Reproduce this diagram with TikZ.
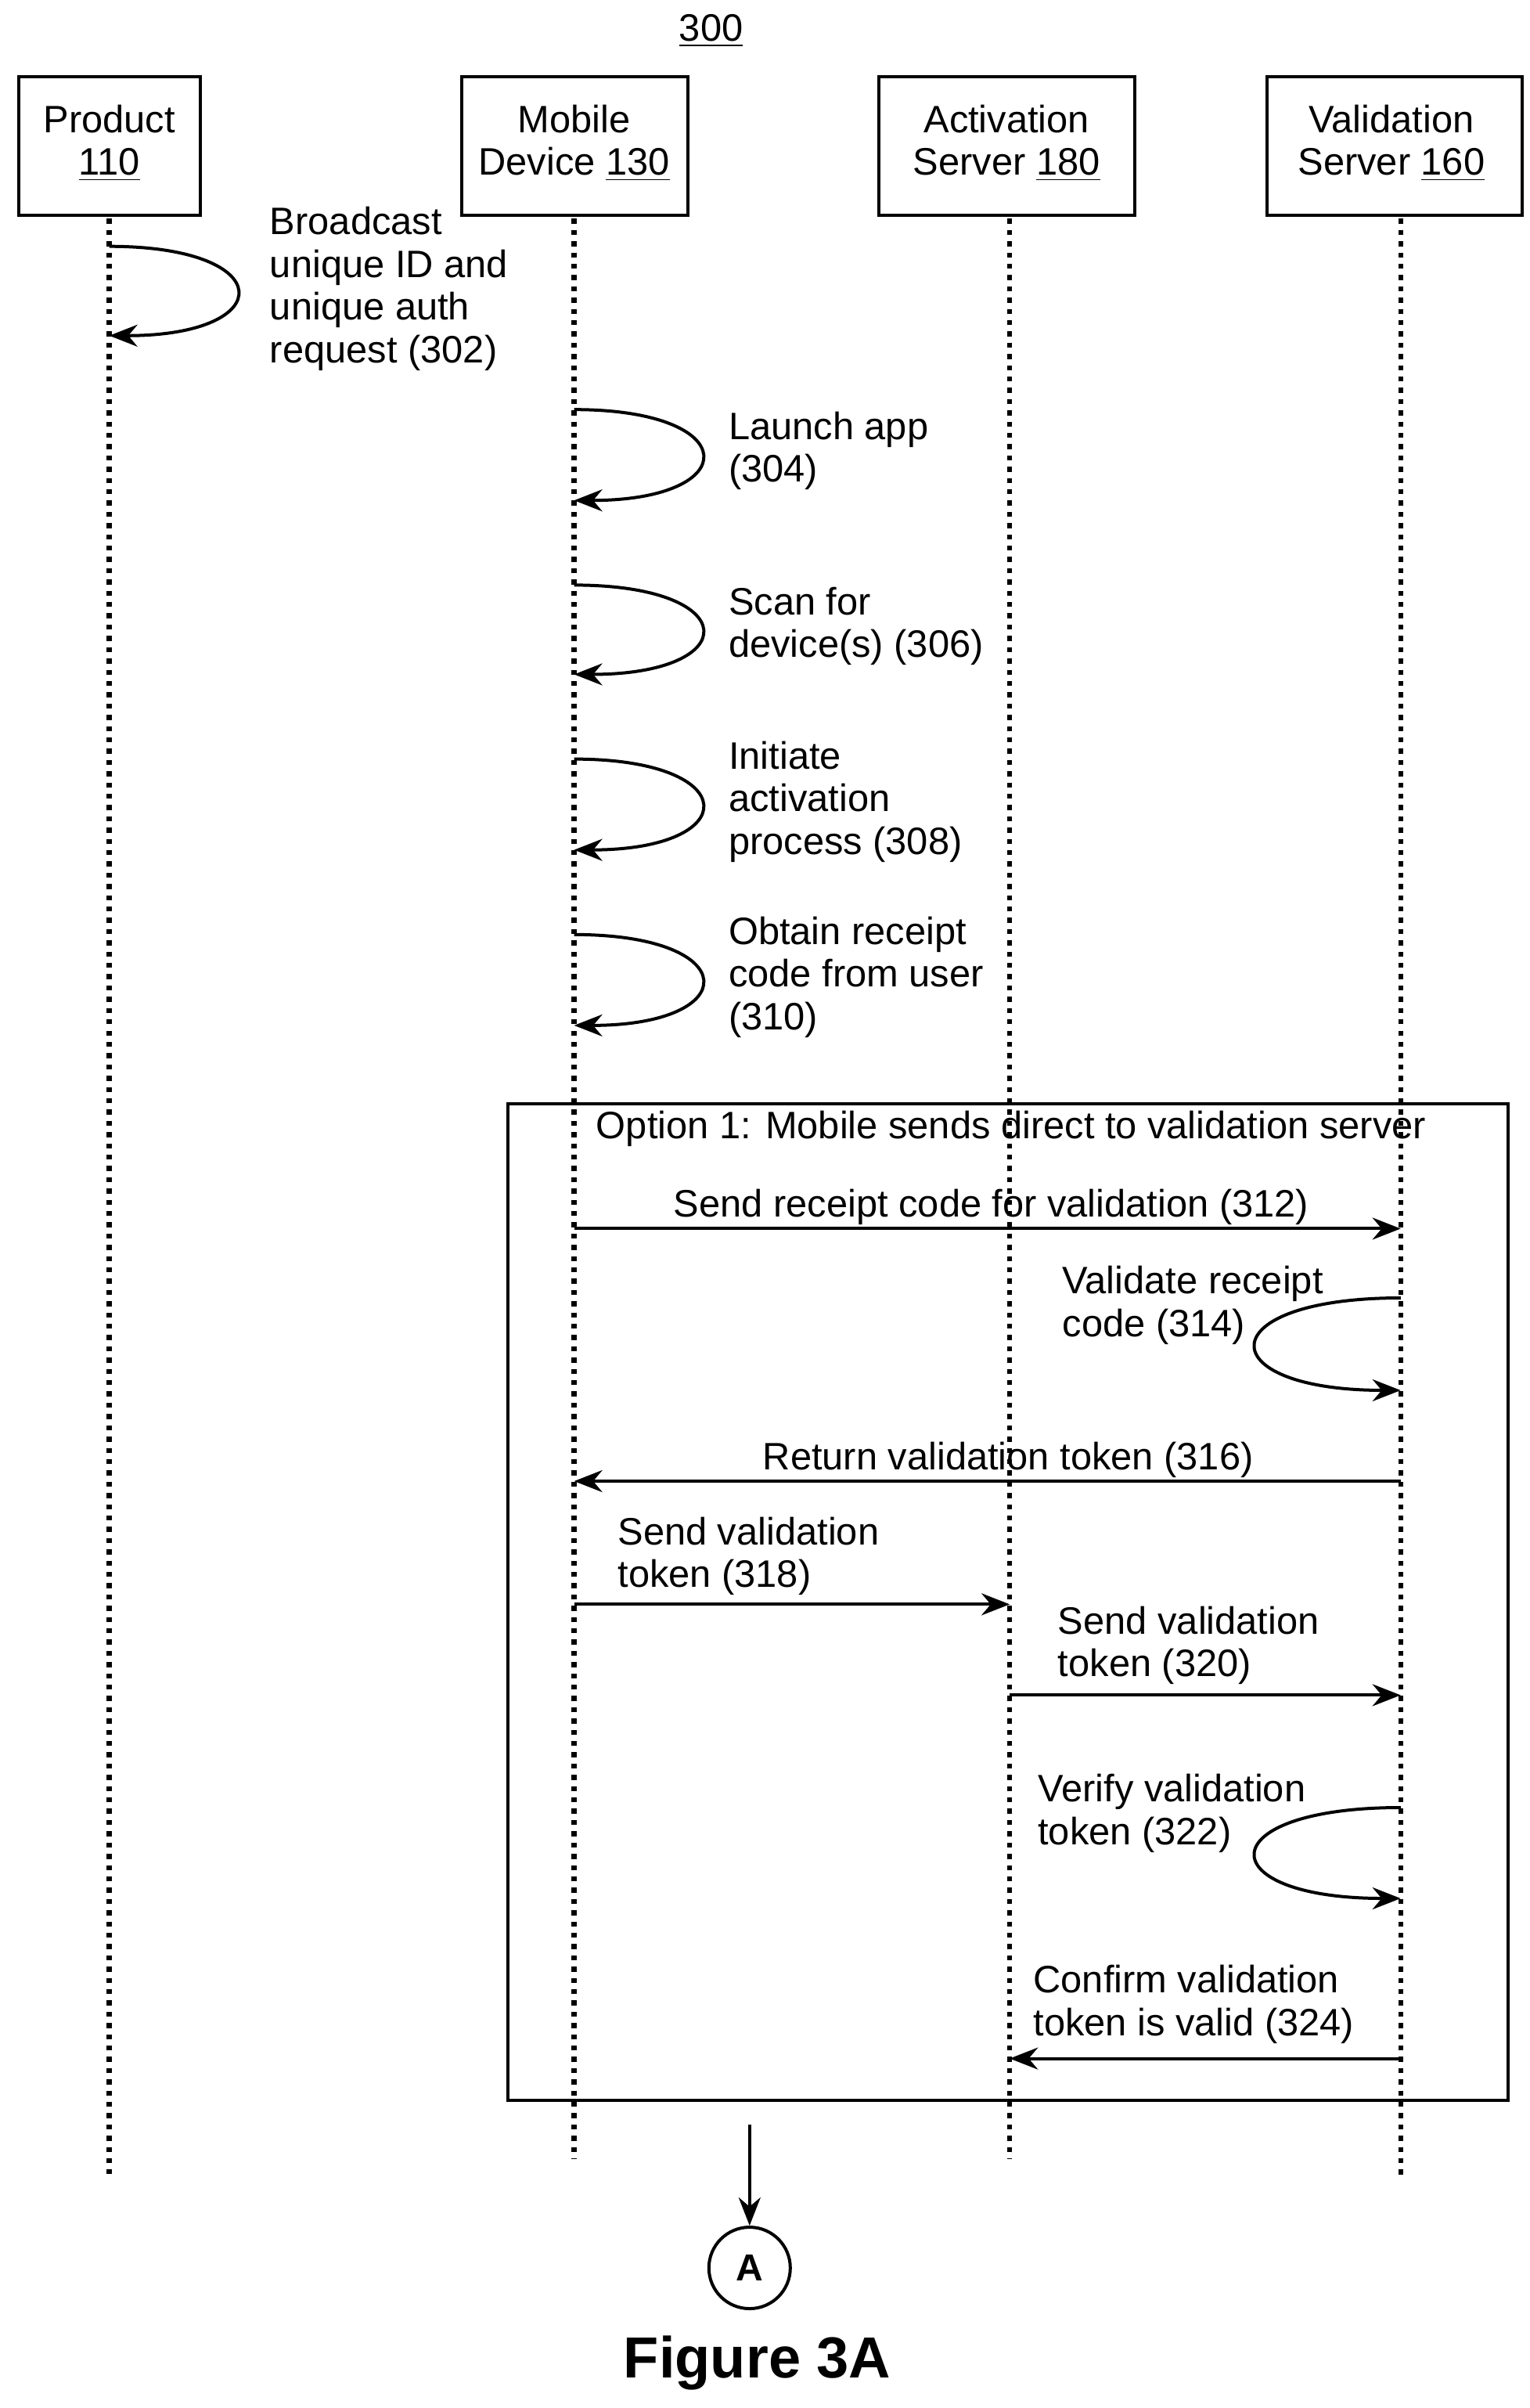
\documentclass[tikz,border=0pt]{standalone}
\usepackage{fontspec}
\setmainfont{Liberation Sans}
\usetikzlibrary{arrows.meta}
\begin{document}
\begin{tikzpicture}[x=0.4915pt,y=-0.4915pt,
  every node/.style={font=\fontsize{12.2}{13.6}\selectfont},
  life/.style={line width=1.6pt,dotted},
  msg/.style={line width=1pt,-{Stealth[length=9pt,width=7pt]}},
  lbl/.style={anchor=north west,inner sep=0pt,align=left}]
\useasboundingbox (0,0) rectangle (994,1564);
\node[inner sep=0pt] at (462,20) {\underline{300}};
\draw[line width=1pt] (12,50) rectangle (130,140);
\draw[line width=1pt] (300,50) rectangle (447,140);
\draw[line width=1pt] (571,50) rectangle (737,140);
\draw[line width=1pt] (823,50) rectangle (989,140);
\node[align=center] (p) at (71,93) {Product\\\underline{110}};
\node[align=center] (m) at (373,93) {Mobile\\Device \underline{130}};
\node[align=center] (a) at (654,93) {Activation\\Server \underline{180}};
\node[align=center] (v) at (904,93) {Validation\\Server \underline{160}};
% lifelines
\coordinate (pl1) at (71,142); \coordinate (pl2) at (71,1412);
\coordinate (ml1) at (373,142); \coordinate (ml2) at (373,1402);
\coordinate (al1) at (656,142); \coordinate (al2) at (656,1402);
\coordinate (vl1) at (910,142); \coordinate (vl2) at (910,1414);
\draw[life] (pl1)--(pl2); \draw[life] (ml1)--(ml2); \draw[life] (al1)--(al2); \draw[life] (vl1)--(vl2);
% self loops
\foreach \n/\x/\ya/\yb/\d in {l302/71/160/218/92, l304/373/266/325/92, l306/373/380/438/92, l308/373/493/552/92, l310/373/607/666/92}{
  \coordinate (\n a) at (\x,\ya); \coordinate (\n b) at (\x,\yb);
  \draw[msg] (\n a) .. controls ++(\d*1.2,0) and ++(\d*1.2,0) .. (\n b);
}
\foreach \n/\x/\ya/\yb in {l314/910/843/903, l322/910/1174/1233}{
  \coordinate (\n a) at (\x,\ya); \coordinate (\n b) at (\x,\yb);
  \draw[msg] (\n a) .. controls ++(-125,0) and ++(-125,0) .. (\n b);
}
\node[lbl] at (175,134) {Broadcast\\unique ID and\\unique auth\\request (302)};
\node[lbl] at (473,267) {Launch app\\(304)};
\node[lbl] at (473,381) {Scan for\\device(s) (306)};
\node[lbl] at (473,481) {Initiate\\activation\\process (308)};
\node[lbl] at (473,595) {Obtain receipt\\code from user\\(310)};
% option frame
\draw[line width=1pt] (330,717) rectangle (980,1364);
\node[lbl] at (387,721) {Option 1: Mobile sends direct to validation server};
% messages
\coordinate (s312) at (373,798); \coordinate (e312) at (910,798);
\draw[msg] (s312)--(e312); \node[inner sep=0pt] at (644,784) {Send receipt code for validation (312)};
\node[lbl] at (690,822) {Validate receipt\\code (314)};
\coordinate (s316) at (910,962); \coordinate (e316) at (373,962);
\draw[msg] (s316)--(e316); \node[inner sep=0pt] at (655,948) {Return validation token (316)};
\coordinate (s318) at (373,1042); \coordinate (e318) at (656,1042);
\draw[msg] (s318)--(e318); \node[lbl] at (401,985) {Send validation\\token (318)};
\coordinate (s320) at (656,1101); \coordinate (e320) at (910,1101);
\draw[msg] (s320)--(e320); \node[lbl] at (687,1043) {Send validation\\token (320)};
\node[lbl] at (674,1152) {Verify validation\\token (322)};
\coordinate (s324) at (910,1337); \coordinate (e324) at (656,1337);
\draw[msg] (s324)--(e324); \node[lbl] at (671,1276) {Confirm validation\\token is valid (324)};
% connector A
\coordinate (cs) at (487,1380);
\node[draw,circle,line width=1pt,minimum size=26pt,inner sep=0pt,font=\bfseries\fontsize{12}{14}\selectfont] (A) at (487,1473) {A};
\draw[msg] (cs)--(A);
\node[font=\bfseries\fontsize{18.5}{20}\selectfont] at (492,1535) {Figure 3A};
\end{tikzpicture}
\end{document}
